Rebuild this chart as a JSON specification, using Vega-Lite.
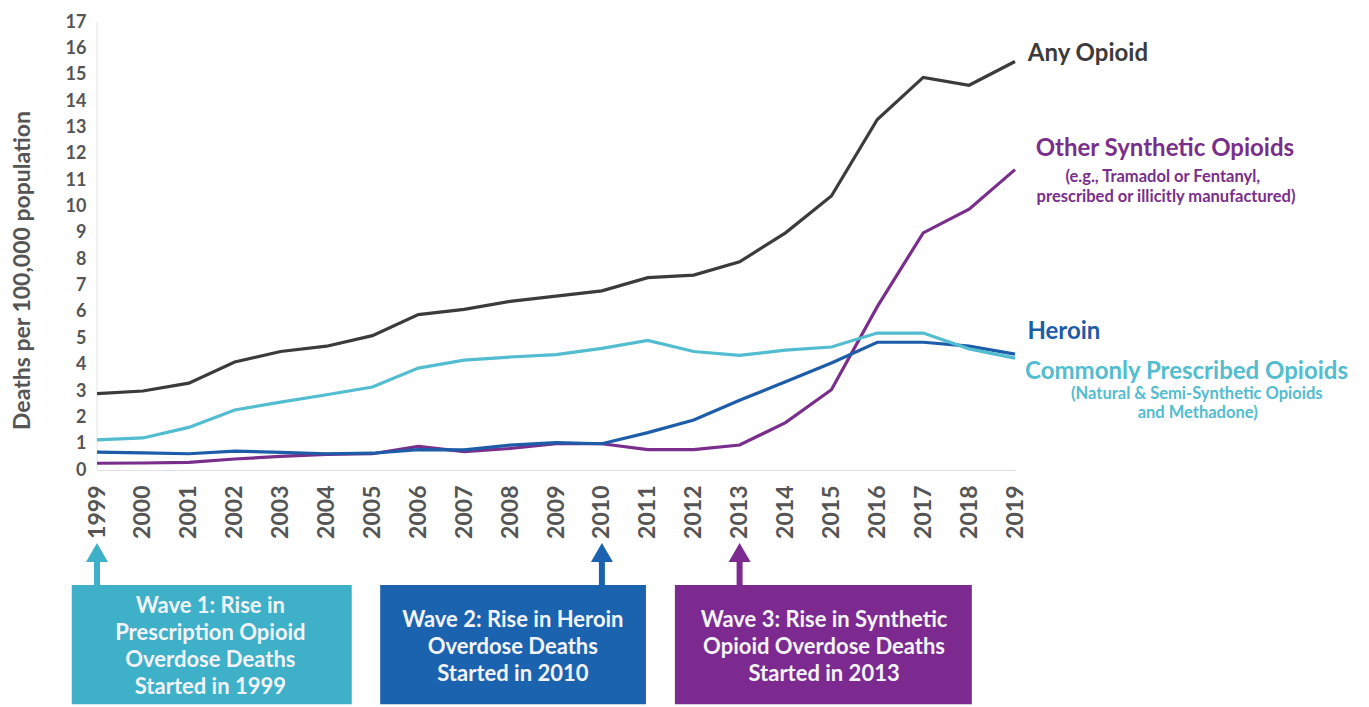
{
  "$schema": "https://vega.github.io/schema/vega-lite/v6.json",
  "width": 918,
  "height": 684,
  "autosize": "none",
  "padding": {"left": 97, "top": 22, "right": 354, "bottom": 1},
  "background": "white",
  "config": {"view": {"stroke": null}, "font": "Lato"},
  "datasets": {
    "rates": [
      {"year": 1999, "series": "Any Opioid", "rate": 2.9},
      {"year": 2000, "series": "Any Opioid", "rate": 3.0},
      {"year": 2001, "series": "Any Opioid", "rate": 3.3},
      {"year": 2002, "series": "Any Opioid", "rate": 4.1},
      {"year": 2003, "series": "Any Opioid", "rate": 4.5},
      {"year": 2004, "series": "Any Opioid", "rate": 4.7},
      {"year": 2005, "series": "Any Opioid", "rate": 5.1},
      {"year": 2006, "series": "Any Opioid", "rate": 5.9},
      {"year": 2007, "series": "Any Opioid", "rate": 6.1},
      {"year": 2008, "series": "Any Opioid", "rate": 6.4},
      {"year": 2009, "series": "Any Opioid", "rate": 6.6},
      {"year": 2010, "series": "Any Opioid", "rate": 6.8},
      {"year": 2011, "series": "Any Opioid", "rate": 7.3},
      {"year": 2012, "series": "Any Opioid", "rate": 7.4},
      {"year": 2013, "series": "Any Opioid", "rate": 7.9},
      {"year": 2014, "series": "Any Opioid", "rate": 9.0},
      {"year": 2015, "series": "Any Opioid", "rate": 10.4},
      {"year": 2016, "series": "Any Opioid", "rate": 13.3},
      {"year": 2017, "series": "Any Opioid", "rate": 14.9},
      {"year": 2018, "series": "Any Opioid", "rate": 14.6},
      {"year": 2019, "series": "Any Opioid", "rate": 15.5},
      {"year": 1999, "series": "Other Synthetic Opioids", "rate": 0.26},
      {"year": 2000, "series": "Other Synthetic Opioids", "rate": 0.27},
      {"year": 2001, "series": "Other Synthetic Opioids", "rate": 0.29},
      {"year": 2002, "series": "Other Synthetic Opioids", "rate": 0.42},
      {"year": 2003, "series": "Other Synthetic Opioids", "rate": 0.52},
      {"year": 2004, "series": "Other Synthetic Opioids", "rate": 0.6},
      {"year": 2005, "series": "Other Synthetic Opioids", "rate": 0.62},
      {"year": 2006, "series": "Other Synthetic Opioids", "rate": 0.9},
      {"year": 2007, "series": "Other Synthetic Opioids", "rate": 0.7},
      {"year": 2008, "series": "Other Synthetic Opioids", "rate": 0.82},
      {"year": 2009, "series": "Other Synthetic Opioids", "rate": 1.0},
      {"year": 2010, "series": "Other Synthetic Opioids", "rate": 1.0},
      {"year": 2011, "series": "Other Synthetic Opioids", "rate": 0.78},
      {"year": 2012, "series": "Other Synthetic Opioids", "rate": 0.78},
      {"year": 2013, "series": "Other Synthetic Opioids", "rate": 0.95},
      {"year": 2014, "series": "Other Synthetic Opioids", "rate": 1.8},
      {"year": 2015, "series": "Other Synthetic Opioids", "rate": 3.05},
      {"year": 2016, "series": "Other Synthetic Opioids", "rate": 6.2},
      {"year": 2017, "series": "Other Synthetic Opioids", "rate": 9.0},
      {"year": 2018, "series": "Other Synthetic Opioids", "rate": 9.9},
      {"year": 2019, "series": "Other Synthetic Opioids", "rate": 11.4},
      {"year": 1999, "series": "Heroin", "rate": 0.68},
      {"year": 2000, "series": "Heroin", "rate": 0.65},
      {"year": 2001, "series": "Heroin", "rate": 0.62},
      {"year": 2002, "series": "Heroin", "rate": 0.72},
      {"year": 2003, "series": "Heroin", "rate": 0.67},
      {"year": 2004, "series": "Heroin", "rate": 0.62},
      {"year": 2005, "series": "Heroin", "rate": 0.64},
      {"year": 2006, "series": "Heroin", "rate": 0.78},
      {"year": 2007, "series": "Heroin", "rate": 0.77},
      {"year": 2008, "series": "Heroin", "rate": 0.95},
      {"year": 2009, "series": "Heroin", "rate": 1.04},
      {"year": 2010, "series": "Heroin", "rate": 1.0},
      {"year": 2011, "series": "Heroin", "rate": 1.42},
      {"year": 2012, "series": "Heroin", "rate": 1.9},
      {"year": 2013, "series": "Heroin", "rate": 2.65},
      {"year": 2014, "series": "Heroin", "rate": 3.35},
      {"year": 2015, "series": "Heroin", "rate": 4.06},
      {"year": 2016, "series": "Heroin", "rate": 4.85},
      {"year": 2017, "series": "Heroin", "rate": 4.85},
      {"year": 2018, "series": "Heroin", "rate": 4.7},
      {"year": 2019, "series": "Heroin", "rate": 4.4},
      {"year": 1999, "series": "Commonly Prescribed Opioids", "rate": 1.15},
      {"year": 2000, "series": "Commonly Prescribed Opioids", "rate": 1.22},
      {"year": 2001, "series": "Commonly Prescribed Opioids", "rate": 1.62},
      {"year": 2002, "series": "Commonly Prescribed Opioids", "rate": 2.28},
      {"year": 2003, "series": "Commonly Prescribed Opioids", "rate": 2.58},
      {"year": 2004, "series": "Commonly Prescribed Opioids", "rate": 2.86},
      {"year": 2005, "series": "Commonly Prescribed Opioids", "rate": 3.15},
      {"year": 2006, "series": "Commonly Prescribed Opioids", "rate": 3.87},
      {"year": 2007, "series": "Commonly Prescribed Opioids", "rate": 4.17},
      {"year": 2008, "series": "Commonly Prescribed Opioids", "rate": 4.29},
      {"year": 2009, "series": "Commonly Prescribed Opioids", "rate": 4.38},
      {"year": 2010, "series": "Commonly Prescribed Opioids", "rate": 4.62},
      {"year": 2011, "series": "Commonly Prescribed Opioids", "rate": 4.92},
      {"year": 2012, "series": "Commonly Prescribed Opioids", "rate": 4.5},
      {"year": 2013, "series": "Commonly Prescribed Opioids", "rate": 4.35},
      {"year": 2014, "series": "Commonly Prescribed Opioids", "rate": 4.55},
      {"year": 2015, "series": "Commonly Prescribed Opioids", "rate": 4.67},
      {"year": 2016, "series": "Commonly Prescribed Opioids", "rate": 5.2},
      {"year": 2017, "series": "Commonly Prescribed Opioids", "rate": 5.2},
      {"year": 2018, "series": "Commonly Prescribed Opioids", "rate": 4.6},
      {"year": 2019, "series": "Commonly Prescribed Opioids", "rate": 4.25}
    ],
    "labels": [
      {"series": "Any Opioid", "label": "Any Opioid", "x": 2019.28, "y": 15.8},
      {"series": "Other Synthetic Opioids", "label": "Other Synthetic Opioids", "x": 2019.45, "y": 12.2},
      {"series": "Heroin", "label": "Heroin", "x": 2019.27, "y": 5.24},
      {"series": "Commonly Prescribed Opioids", "label": "Commonly Prescribed Opioids", "x": 2019.22, "y": 3.72}
    ],
    "notes": [
      {"series": "Other Synthetic Opioids", "label": "(e.g., Tramadol or Fentanyl,", "x": 2022.22, "y": 11.12},
      {"series": "Other Synthetic Opioids", "label": "prescribed or illicitly manufactured)", "x": 2022.29, "y": 10.36},
      {"series": "Commonly Prescribed Opioids", "label": "(Natural & Semi-Synthetic Opioids", "x": 2022.96, "y": 2.88},
      {"series": "Commonly Prescribed Opioids", "label": "and Methadone)", "x": 2022.98, "y": 2.16}
    ],
    "waves": [
      {"wave": "Wave 1", "year": 1999, "x1": 1998.45, "x2": 2004.55, "xc": 2001.47, "ty": -5.15, "lines": ["Wave 1: Rise in", "Prescription Opioid", "Overdose Deaths", "Started in 1999"]},
      {"wave": "Wave 2", "year": 2010, "x1": 2005.17, "x2": 2010.96, "xc": 2008.06, "ty": -5.69, "lines": ["Wave 2: Rise in Heroin", "Overdose Deaths", "Started in 2010"]},
      {"wave": "Wave 3", "year": 2013, "x1": 2011.59, "x2": 2018.06, "xc": 2014.84, "ty": -5.69, "lines": ["Wave 3: Rise in Synthetic", "Opioid Overdose Deaths", "Started in 2013"]}
    ]
  },
  "layer": [
    {
      "data": {"values": [{}]},
      "mark": {"type": "rule", "color": "#e2e2e2", "strokeWidth": 1},
      "encoding": {
        "x": {"datum": 1999, "type": "quantitative"},
        "y": {"datum": 0, "type": "quantitative"},
        "y2": {"datum": 17}
      }
    },
    {
      "data": {"name": "rates"},
      "mark": {"type": "line", "strokeWidth": 3.2},
      "encoding": {
        "x": {
          "field": "year", "type": "quantitative",
          "scale": {"domain": [1999, 2019], "nice": false, "zero": false},
          "axis": {
            "title": null,
            "values": [1999, 2000, 2001, 2002, 2003, 2004, 2005, 2006, 2007, 2008, 2009, 2010, 2011, 2012, 2013, 2014, 2015, 2016, 2017, 2018, 2019],
            "format": "d",
            "labelAngle": -90,
            "labelFont": "Lato",
            "labelFontSize": 23,
            "labelFontWeight": "bold",
            "labelColor": "#555555",
            "labelFlush": false,
            "labelOverlap": false,
            "ticks": false,
            "labelPadding": 15,
            "domainColor": "#e0e0e0",
            "grid": false,
            "offset": -236
          }
        },
        "y": {
          "field": "rate", "type": "quantitative",
          "scale": {"domain": [-8.95, 17], "nice": false, "zero": false},
          "axis": {
            "title": "Deaths per 100,000 population",
            "values": [0, 1, 2, 3, 4, 5, 6, 7, 8, 9, 10, 11, 12, 13, 14, 15, 16, 17],
            "grid": false,
            "domain": false,
            "ticks": false,
            "labelPadding": 11,
            "labelFont": "Lato",
            "labelFontSize": 18,
            "labelFontWeight": "bold",
            "labelColor": "#555555",
            "titleFont": "Lato",
            "titleFontSize": 23,
            "titleFontWeight": "bold",
            "titleColor": "#555555",
            "titleX": -75,
            "titleY": 248,
            "titleAngle": 270,
            "titleAlign": "center",
            "titleBaseline": "middle"
          }
        },
        "color": {
          "field": "series", "type": "nominal",
          "scale": {
            "domain": ["Any Opioid", "Other Synthetic Opioids", "Heroin", "Commonly Prescribed Opioids"],
            "range": ["#3b3b3b", "#7a2e8c", "#1d5ca8", "#52bcd0"]
          },
          "legend": null
        }
      }
    },
    {
      "data": {"name": "labels"},
      "mark": {"type": "text", "align": "left", "baseline": "middle", "font": "Lato", "fontSize": 24, "fontWeight": "bold"},
      "encoding": {
        "x": {"field": "x", "type": "quantitative"},
        "y": {"field": "y", "type": "quantitative"},
        "text": {"field": "label"},
        "color": {"field": "series", "type": "nominal", "legend": null}
      }
    },
    {
      "data": {"name": "notes"},
      "mark": {"type": "text", "align": "center", "baseline": "middle", "font": "Lato", "fontSize": 16.5, "fontWeight": "bold"},
      "encoding": {
        "x": {"field": "x", "type": "quantitative"},
        "y": {"field": "y", "type": "quantitative"},
        "text": {"field": "label"},
        "color": {"field": "series", "type": "nominal", "legend": null}
      }
    },
    {
      "data": {"name": "waves"},
      "mark": {"type": "rect"},
      "encoding": {
        "x": {"field": "x1", "type": "quantitative"},
        "x2": {"field": "x2"},
        "y": {"datum": -4.36, "type": "quantitative"},
        "y2": {"datum": -8.88},
        "fill": {
          "field": "wave", "type": "nominal",
          "scale": {"domain": ["Wave 1", "Wave 2", "Wave 3"], "range": ["#3eb0c8", "#1b63ae", "#7c2a8f"]},
          "legend": null
        }
      }
    },
    {
      "data": {"name": "waves"},
      "mark": {"type": "rule", "strokeWidth": 6},
      "encoding": {
        "x": {"field": "year", "type": "quantitative"},
        "y": {"datum": -3.4, "type": "quantitative"},
        "y2": {"datum": -4.36},
        "stroke": {
          "field": "wave", "type": "nominal",
          "scale": {"domain": ["Wave 1", "Wave 2", "Wave 3"], "range": ["#3eb0c8", "#1b63ae", "#7c2a8f"]},
          "legend": null
        }
      }
    },
    {
      "data": {"name": "waves"},
      "mark": {"type": "point", "shape": "triangle-up", "size": 484, "filled": true, "opacity": 1},
      "encoding": {
        "x": {"field": "year", "type": "quantitative"},
        "y": {"datum": -3.13, "type": "quantitative"},
        "fill": {"field": "wave", "type": "nominal", "legend": null}
      }
    },
    {
      "data": {"name": "waves"},
      "mark": {"type": "text", "align": "center", "baseline": "middle", "font": "Lato", "fontSize": 22, "fontWeight": "bold", "lineHeight": 27, "color": "#f3f4fb"},
      "encoding": {
        "x": {"field": "xc", "type": "quantitative"},
        "y": {"field": "ty", "type": "quantitative"},
        "text": {"field": "lines"}
      }
    }
  ]
}
